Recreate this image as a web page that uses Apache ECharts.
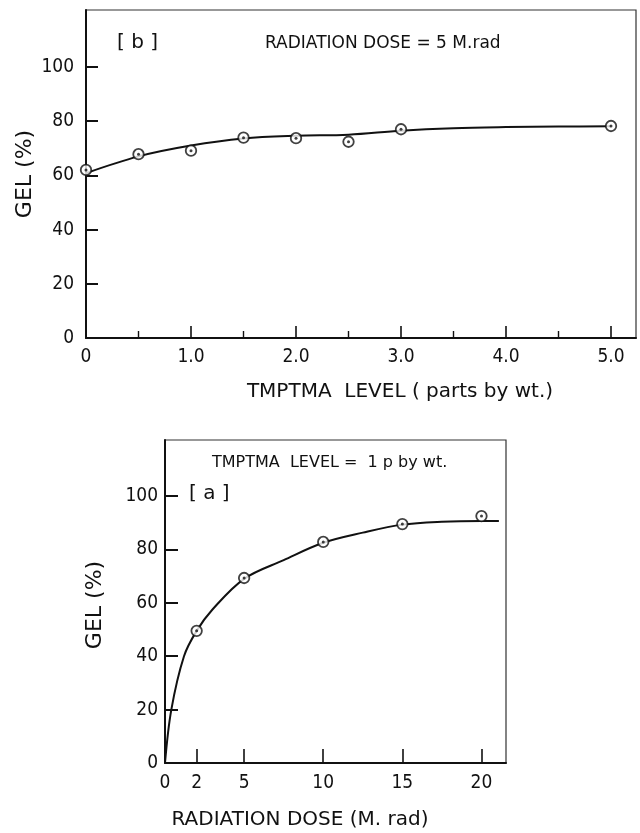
<!DOCTYPE html>
<html>
<head>
<meta charset="utf-8">
<style>
  html, body { margin: 0; padding: 0; background: #fff; }
  #chart { width: 640px; height: 833px; }
</style>
<script src="https://cdn.jsdelivr.net/npm/echarts@6/dist/echarts.min.js"></script>
</head>
<body>
<div id="chart"></div>
<script>
// Panel [b]: gel content against TMPTMA level at a dose of 5 Mrad
const levelPts   = [0, 0.5, 1.0, 1.5, 2.0, 2.5, 3.0, 5.0];
const gelAtLevel = [62.0, 67.8, 69.1, 73.9, 73.7, 72.4, 77.0, 78.2];
const levelCurveX = [0, 0.5, 1.0, 1.5, 2.0, 2.5, 3.0, 3.5, 4.0, 4.5, 5.0];
const levelCurveY = [60.8, 67.0, 71.0, 73.6, 74.6, 75.0, 76.5, 77.4, 77.8, 78.0, 78.1];
const levelTicks = [0, 1, 2, 3, 4, 5];
const levelTickLabels = ['0', '1.0', '2.0', '3.0', '4.0', '5.0'];
const levelMinorTicks = [0.5, 1.5, 2.5, 3.5, 4.5];

// Panel [a]: gel content against radiation dose at 1 part TMPTMA
const dosePts   = [2, 5, 10, 15, 20];
const gelAtDose = [49.5, 69.3, 82.8, 89.5, 92.5];
const doseCurveX = [0, 0.4, 1.2, 2, 3, 5, 7.5, 10, 12.5, 15, 17.5, 20, 21.1];
const doseCurveY = [0, 20, 40, 49.5, 57.5, 69.0, 76.0, 82.5, 86.3, 89.3, 90.4, 90.7, 90.7];
const doseTicks = [0, 2, 5, 10, 15, 20];

const gelTicks = [0, 20, 40, 60, 80, 100];

const NARROW = "'DejaVu Sans Condensed', 'DejaVu Sans', sans-serif";
const WIDE = "'DejaVu Sans', sans-serif";
const INK = '#111';

const pairs = (xs, ys) => xs.map((x, i) => [x, ys[i]]);

function gelAxis(gridIndex, tickLen, margin) {
  return {
    type: 'value', gridIndex, min: 0, max: 121,
    axisLine: { show: true, lineStyle: { color: INK, width: 2 } },
    splitLine: { show: false },
    axisTick: {
      show: true, inside: true, length: tickLen,
      customValues: gelTicks.filter(v => v > 0),
      lineStyle: { color: INK, width: 2 }
    },
    axisLabel: {
      customValues: gelTicks, margin,
      formatter: v => (gelTicks.indexOf(v) >= 0 ? String(v) : ''),
      color: INK, fontFamily: NARROW, fontSize: 19
    }
  };
}

function markSeries(xi, yi, data) {
  return [
    {
      type: 'scatter', xAxisIndex: xi, yAxisIndex: yi, data,
      symbol: 'circle', symbolSize: 10.5, z: 5,
      itemStyle: { color: '#fff', borderColor: INK, borderWidth: 1.8 }
    },
    {
      type: 'scatter', xAxisIndex: xi, yAxisIndex: yi, data,
      symbol: 'circle', symbolSize: 3, z: 6,
      itemStyle: { color: INK }
    }
  ];
}

function curveSeries(xi, yi, data) {
  return {
    type: 'line', xAxisIndex: xi, yAxisIndex: yi, data,
    smooth: 0.35, showSymbol: false, z: 3,
    lineStyle: { color: INK, width: 2 }
  };
}

const chart = echarts.init(document.getElementById('chart'), null, { renderer: 'canvas' });

chart.setOption({
  animation: false,
  backgroundColor: '#fff',
  grid: [
    { left: 86, top: 10, width: 550, height: 328, show: true, borderColor: '#333', borderWidth: 1.2 },
    { left: 165, top: 440, width: 341, height: 323, show: true, borderColor: '#333', borderWidth: 1.2 }
  ],
  xAxis: [
    {
      type: 'value', gridIndex: 0, position: 'bottom', min: 0, max: 5.238,
      axisLine: { show: true, lineStyle: { color: INK, width: 2 } },
      splitLine: { show: false },
      axisTick: {
        show: true, inside: true, length: 12,
        customValues: levelTicks.filter(v => v > 0),
        lineStyle: { color: INK, width: 1.6 }
      },
      axisLabel: {
        customValues: levelTicks, margin: 10,
        formatter: v => { const i = levelTicks.indexOf(v); return i >= 0 ? levelTickLabels[i] : ''; },
        color: INK, fontFamily: NARROW, fontSize: 19
      }
    },
    {
      // half-step minor ticks on the TMPTMA axis
      type: 'value', gridIndex: 0, position: 'bottom', offset: 0, min: 0, max: 5.238,
      axisLine: { show: false },
      splitLine: { show: false },
      axisTick: {
        show: true, inside: true, length: 7,
        customValues: levelMinorTicks,
        lineStyle: { color: INK, width: 1.4 }
      },
      axisLabel: { show: false }
    },
    {
      type: 'value', gridIndex: 1, position: 'bottom', min: 0, max: 21.55,
      axisLine: { show: true, lineStyle: { color: INK, width: 2 } },
      splitLine: { show: false },
      axisTick: {
        show: true, inside: true, length: 14,
        customValues: doseTicks.filter(v => v > 0),
        lineStyle: { color: INK, width: 1.6 }
      },
      axisLabel: {
        customValues: doseTicks, margin: 11,
        formatter: v => (doseTicks.indexOf(v) >= 0 ? String(v) : ''),
        color: INK, fontFamily: NARROW, fontSize: 19
      }
    }
  ],
  yAxis: [
    gelAxis(0, 12, 12),
    gelAxis(1, 13, 7)
  ],
  series: [
    curveSeries(0, 0, pairs(levelCurveX, levelCurveY)),
    ...markSeries(0, 0, pairs(levelPts, gelAtLevel)),
    curveSeries(2, 1, pairs(doseCurveX, doseCurveY)),
    ...markSeries(2, 1, pairs(dosePts, gelAtDose))
  ],
  graphic: [
    // panel [b] annotations
    { type: 'text', left: 117, top: 33, style: { text: '[ b ]', font: "20px " + WIDE, fill: INK } },
    { type: 'text', left: 265, top: 35, style: { text: 'RADIATION DOSE = 5 M.rad', font: "17px " + WIDE, fill: INK } },
    { type: 'text', x: 400, y: 392, style: { text: 'TMPTMA  LEVEL ( parts by wt.)', font: "20px " + WIDE, fill: INK, align: 'center', verticalAlign: 'middle' } },
    { type: 'text', x: 25, y: 174, rotation: Math.PI / 2, style: { text: 'GEL (%)', font: "22px " + WIDE, fill: INK, align: 'center', verticalAlign: 'middle' } },
    // panel [a] annotations
    { type: 'text', left: 212, top: 455, style: { text: 'TMPTMA  LEVEL =  1 p by wt.', font: "16px " + WIDE, fill: INK } },
    { type: 'text', left: 189, top: 484, style: { text: '[ a ]', font: "20px " + WIDE, fill: INK } },
    { type: 'text', x: 300, y: 820, style: { text: 'RADIATION DOSE (M. rad)', font: "20px " + WIDE, fill: INK, align: 'center', verticalAlign: 'middle' } },
    { type: 'text', x: 95, y: 605, rotation: Math.PI / 2, style: { text: 'GEL (%)', font: "22px " + WIDE, fill: INK, align: 'center', verticalAlign: 'middle' } }
  ]
});
</script>
</body>
</html>
